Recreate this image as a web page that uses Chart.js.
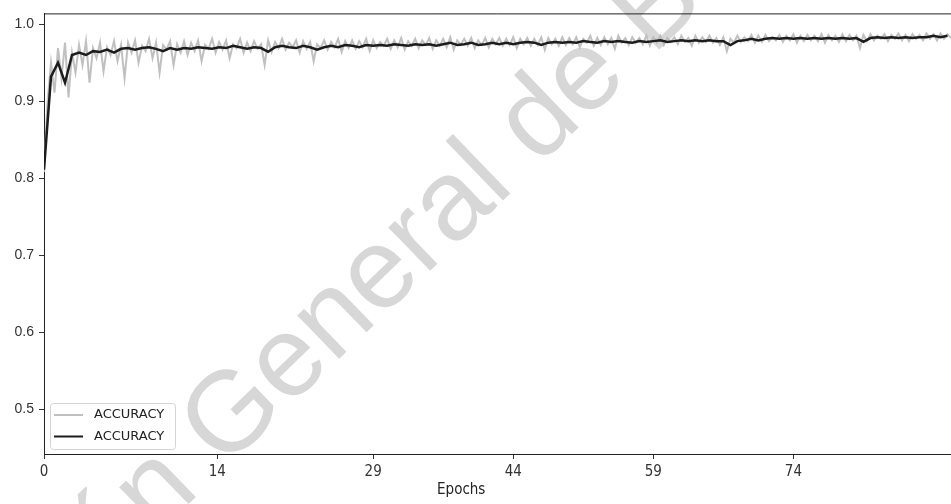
<!DOCTYPE html>
<html>
<head>
<meta charset="utf-8">
<script src="https://cdn.jsdelivr.net/npm/chart.js@4"></script>
<style>
    body { margin: 0; background: #ffffff; }
    #accChart { display: block; }
</style>
</head>
<body>
<canvas id="accChart" width="951" height="504"></canvas>
<script>
// Sumbu x: posisi tick (dalam langkah data) dan label epoch
const tickSteps = [0, 49.5, 94, 134, 174, 214];
const tickLabels = ['0', '14', '29', '44', '59', '74'];
const yTicks = [0.5, 0.6, 0.7, 0.8, 0.9, 1.0];

// Akurasi mentah (abu-abu), satu nilai per langkah
const accRaw = [
    .808, .898, .950, .911, .969, .930, .976, .905, .963, .937,
    .973, .947, .978, .924, .969, .956, .976, .939, .970, .960,
    .978, .952, .973, .930, .976, .963, .979, .950, .972, .965,
    .981, .956, .976, .937, .973, .967, .978, .947, .974, .963,
    .978, .960, .976, .965, .979, .952, .973, .968, .981, .963,
    .977, .967, .979, .956, .974, .969, .981, .963, .976, .965,
    .978, .968, .974, .947, .979, .964, .977, .969, .981, .967,
    .976, .970, .979, .963, .978, .968, .977, .952, .974, .969,
    .979, .967, .977, .970, .981, .964, .978, .969, .979, .968,
    .978, .970, .981, .965, .979, .969, .977, .972, .981, .968,
    .979, .970, .982, .967, .978, .972, .981, .969, .979, .973,
    .982, .968, .979, .972, .981, .970, .983, .967, .979, .973,
    .981, .972, .982, .969, .979, .973, .982, .970, .981, .974,
    .982, .972, .981, .973, .983, .969, .981, .974, .982, .972,
    .981, .973, .983, .967, .982, .974, .981, .972, .983, .973,
    .982, .974, .983, .970, .981, .976, .985, .972, .982, .973,
    .983, .974, .982, .968, .985, .976, .982, .973, .983, .976,
    .982, .974, .985, .972, .983, .976, .985, .973, .982, .977,
    .983, .974, .985, .977, .982, .972, .985, .976, .983, .977,
    .985, .976, .982, .973, .983, .965, .981, .976, .985, .977,
    .983, .978, .986, .976, .985, .977, .986, .978, .983, .979,
    .986, .977, .985, .979, .987, .976, .985, .978, .986, .979,
    .985, .978, .987, .976, .986, .979, .985, .977, .987, .978,
    .986, .979, .985, .969, .986, .978, .987, .979, .985, .981,
    .987, .978, .986, .981, .988, .979, .986, .978, .987, .981,
    .986, .979, .988, .981, .987, .979, .988, .981, .987, .982
];

// Akurasi yang dihaluskan (hitam), satu nilai per dua langkah
const accSmooth = [
    .811, .932, .950, .924, .960, .963, .960, .965, .964, .967,
    .963, .968, .969, .967, .969, .970, .968, .965, .969, .967,
    .969, .968, .970, .969, .968, .970, .969, .972, .970, .968,
    .970, .969, .964, .970, .972, .970, .969, .972, .970, .967,
    .970, .972, .970, .973, .972, .970, .973, .972, .973, .972,
    .974, .973, .972, .974, .973, .974, .972, .974, .976, .973,
    .974, .976, .973, .974, .976, .974, .976, .974, .976, .977,
    .976, .973, .976, .977, .976, .977, .976, .978, .977, .976,
    .978, .977, .978, .977, .976, .978, .977, .978, .979, .977,
    .978, .979, .978, .979, .978, .979, .978, .978, .973, .978,
    .979, .981, .979, .981, .982, .981, .982, .981, .982, .981,
    .982, .981, .982, .981, .982, .981, .982, .977, .982, .983,
    .982, .983, .982, .983, .982, .983, .983, .985, .983, .985
];

const legendLabels = ['ACCURACY', 'ACCURACY'];

// Plugin: latar putih dan tanda air
const watermarkPlugin = {
    id: 'watermark',
    beforeDraw(chart) {
        const ctx = chart.ctx;
        ctx.save();
        ctx.fillStyle = '#ffffff';
        ctx.fillRect(0, 0, chart.width, chart.height);
        ctx.font = '114px "Liberation Sans", Arial, sans-serif';
        ctx.fillStyle = 'rgba(160,160,160,0.42)';
        ctx.textBaseline = 'alphabetic';
        ctx.translate(110, 580);
        ctx.rotate(-44 * Math.PI / 180);
        const lead = ctx.measureText('Direcci').width;
        ctx.fillText('Dirección General de Bibliotecas', -lead, 0);
        ctx.restore();
    }
};

// Plugin: garis atas, judul sumbu x dan legenda di dalam area grafik
const framePlugin = {
    id: 'frame',
    afterDraw(chart) {
        const ctx = chart.ctx;
        const area = chart.chartArea;
        ctx.save();
        ctx.strokeStyle = '#222222';
        ctx.lineWidth = 1;
        ctx.beginPath();
        ctx.moveTo(area.left, area.top + 0.5);
        ctx.lineTo(area.right, area.top + 0.5);
        ctx.stroke();

        ctx.fillStyle = '#222222';
        ctx.font = '15px "Liberation Sans Narrow", "DejaVu Sans Condensed", sans-serif';
        ctx.textAlign = 'center';
        ctx.textBaseline = 'middle';
        ctx.fillText('Epochs', area.left + area.width * 0.46, 490);

        // legenda
        const bx = area.left + 6, by = area.bottom - 51, bw = 125, bh = 46;
        ctx.fillStyle = 'rgba(255,255,255,0.8)';
        ctx.strokeStyle = '#d4d4d4';
        ctx.beginPath();
        ctx.roundRect(bx + 0.5, by + 0.5, bw, bh, 3);
        ctx.fill();
        ctx.stroke();
        chart.data.datasets.forEach((ds, i) => {
            const ly = by + 12 + i * 21.5;
            ctx.strokeStyle = ds.borderColor;
            ctx.lineWidth = 2;
            ctx.beginPath();
            ctx.moveTo(bx + 4, ly);
            ctx.lineTo(bx + 33, ly);
            ctx.stroke();
            ctx.fillStyle = '#222222';
            ctx.font = '13px "DejaVu Sans", sans-serif';
            ctx.textAlign = 'left';
            ctx.fillText(legendLabels[i], bx + 44, ly);
        });
        ctx.restore();
    }
};

function buatGrafik() {
    const ctx = document.getElementById('accChart').getContext('2d');
    new Chart(ctx, {
        type: 'line',
        data: {
            datasets: [{
                label: legendLabels[0],
                data: accRaw.map((v, i) => ({ x: i, y: v })),
                borderColor: 'rgba(185,185,185,0.9)',
                borderWidth: 2,
                pointRadius: 0,
                order: 2
            }, {
                label: legendLabels[1],
                data: accSmooth.map((v, i) => ({ x: i * 2, y: v })),
                borderColor: '#1c1c1c',
                borderWidth: 2.5,
                pointRadius: 0,
                order: 1
            }]
        },
        options: {
            responsive: false,
            animation: false,
            devicePixelRatio: 1,
            layout: { padding: { top: 10, right: 0, left: 0, bottom: 0 } },
            plugins: {
                legend: { display: false },
                tooltip: { enabled: false }
            },
            scales: {
                x: {
                    type: 'linear',
                    min: 0,
                    max: 259,
                    afterBuildTicks: scale => { scale.ticks = tickSteps.map(v => ({ value: v })); },
                    afterFit: scale => { scale.height = 50; },
                    grid: { drawOnChartArea: false, tickLength: 5, color: '#333333' },
                    border: { display: true, color: '#222222', width: 1 },
                    ticks: {
                        autoSkip: false,
                        maxRotation: 0,
                        padding: 4,
                        color: '#333333',
                        font: { family: '"Liberation Sans Narrow", "DejaVu Sans Condensed", sans-serif', size: 15 },
                        callback: (value, index) => tickLabels[index]
                    }
                },
                y: {
                    min: 0.442,
                    max: 1.014,
                    afterBuildTicks: scale => { scale.ticks = yTicks.map(v => ({ value: v })); },
                    afterFit: scale => { scale.width = 44; },
                    grid: { drawOnChartArea: false, tickLength: 5, color: '#333333' },
                    border: { display: true, color: '#222222', width: 1 },
                    ticks: {
                        padding: 5,
                        color: '#333333',
                        font: { family: '"Liberation Sans", Arial, sans-serif', size: 14 },
                        callback: value => value.toFixed(1)
                    }
                }
            }
        },
        plugins: [watermarkPlugin, framePlugin]
    });
}

document.addEventListener('DOMContentLoaded', buatGrafik);
</script>
</body>
</html>
